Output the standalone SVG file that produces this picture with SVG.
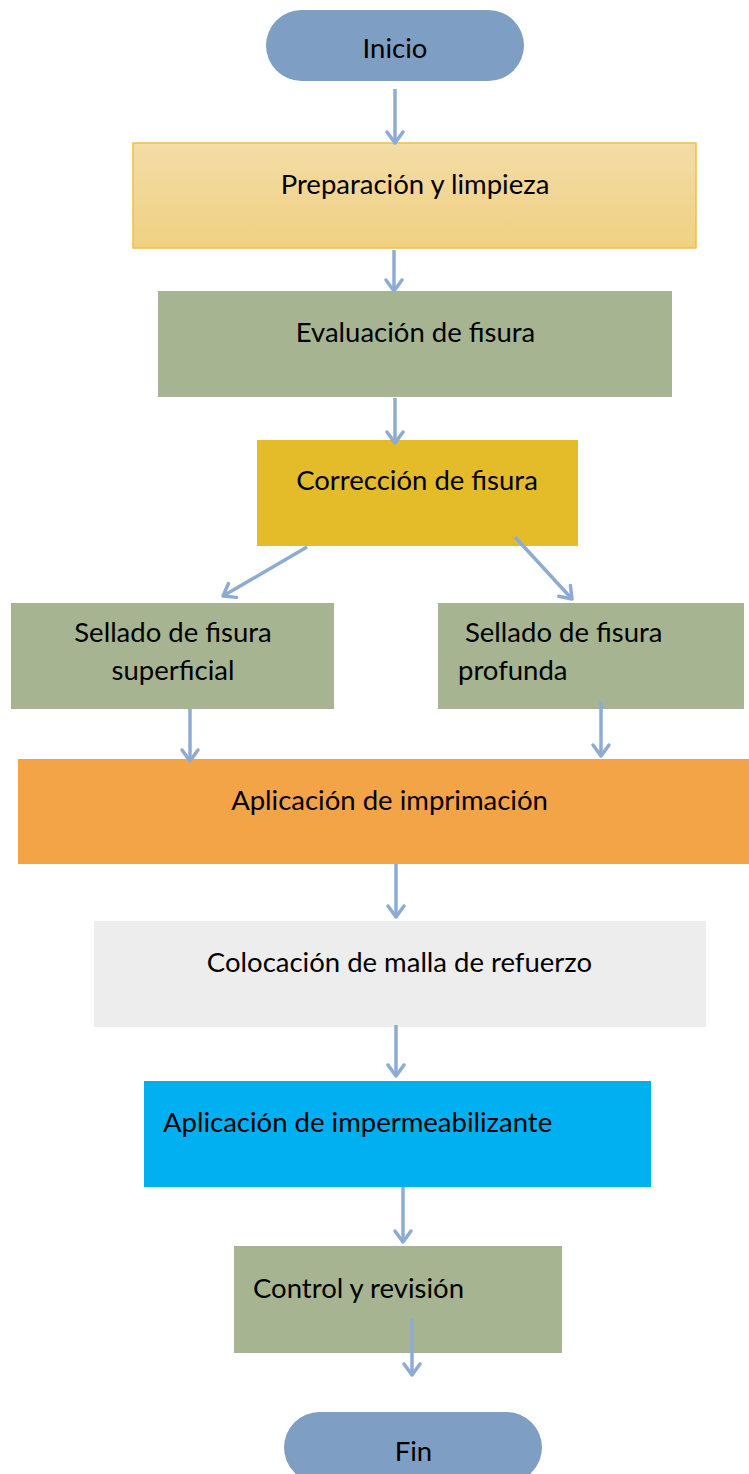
<svg xmlns="http://www.w3.org/2000/svg" width="749" height="1474" viewBox="0 0 749 1474">
<defs>
<linearGradient id="gPrep" x1="0" y1="0" x2="0" y2="1">
<stop offset="0" stop-color="#F3DCA6"/>
<stop offset="1" stop-color="#F0D082"/>
</linearGradient>
<marker id="ah" markerUnits="userSpaceOnUse" markerWidth="30" markerHeight="30" refX="0" refY="0" viewBox="-15 -15 30 30" orient="auto" overflow="visible">
<path d="M-11,-8 L0,0 L-11,8" fill="none" stroke="#8DABD3" stroke-width="3.5" stroke-linecap="round" stroke-linejoin="round"/>
</marker>
</defs>
<style>
text{font-family:Lato,"Liberation Sans",sans-serif;font-size:27.5px;fill:#000}
.c{text-anchor:middle}
.pill{fill:#7F9EC3}
.green{fill:#A6B491}
.conn line{stroke:#8DABD3;stroke-width:3.5;marker-end:url(#ah)}
</style>
<rect width="749" height="1474" fill="#FFFFFF"/>
<g id="n-inicio"><rect class="pill" x="266" y="10" width="258" height="71" rx="35.5"/><text class="c" x="395" y="58">Inicio</text></g>
<g id="n-prep"><rect x="133" y="143" width="563" height="105" fill="url(#gPrep)" stroke="#EEC04A" stroke-width="1.5"/><text class="c" x="415" y="194">Preparación y limpieza</text></g>
<g id="n-eval"><rect class="green" x="158" y="291" width="514" height="106"/><text class="c" x="415.5" y="342">Evaluación de fisura</text></g>
<g id="n-corr"><rect x="257" y="440" width="321" height="106" fill="#E4BB29"/><text class="c" x="417" y="490">Corrección de fisura</text></g>
<g id="n-sup"><rect class="green" x="11" y="603" width="323" height="106"/><text class="c" x="173" y="642">Sellado de fisura</text><text class="c" x="173" y="680">superficial</text></g>
<g id="n-prof"><rect class="green" x="438" y="603" width="306" height="106"/><text x="465" y="642">Sellado de fisura</text><text x="458" y="680">profunda</text></g>
<g id="n-impr"><rect x="18" y="759" width="731" height="105" fill="#F2A446"/><text class="c" x="389.5" y="810">Aplicación de imprimación</text></g>
<g id="n-malla"><rect x="94" y="921" width="612" height="106" fill="#EDEDED"/><text class="c" x="399.5" y="972">Colocación de malla de refuerzo</text></g>
<g id="n-imper"><rect x="144" y="1081" width="507" height="106" fill="#00B0F0"/><text x="163" y="1132">Aplicación de impermeabilizante</text></g>
<g id="n-control"><rect class="green" x="234" y="1246" width="328" height="107"/><text x="253" y="1298">Control y revisión</text></g>
<g id="n-fin"><rect class="pill" x="284" y="1412" width="258" height="71" rx="35.5"/><text class="c" x="413.5" y="1461">Fin</text></g>
<g id="connectors" class="conn">
<line x1="395" y1="89" x2="395" y2="143"/>
<line x1="394" y1="250" x2="394" y2="291"/>
<line x1="395" y1="398" x2="395" y2="443"/>
<line x1="307" y1="547" x2="223" y2="596"/>
<line x1="515" y1="537" x2="572" y2="599"/>
<line x1="190" y1="709" x2="190" y2="761"/>
<line x1="601" y1="701" x2="601" y2="756"/>
<line x1="396" y1="864" x2="396" y2="917"/>
<line x1="396" y1="1025" x2="396" y2="1076"/>
<line x1="403" y1="1187" x2="403" y2="1242"/>
<line x1="412" y1="1319" x2="412" y2="1375"/>
</g>
</svg>
